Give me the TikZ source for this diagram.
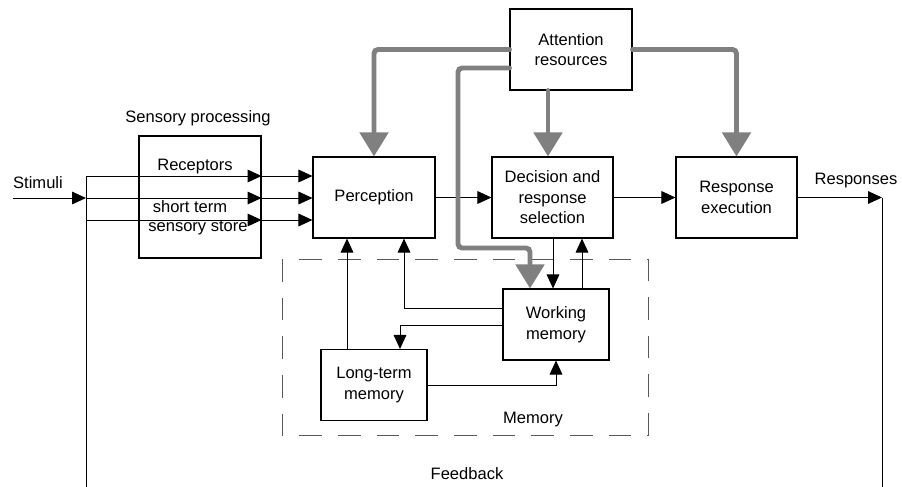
\documentclass[tikz,border=0pt]{standalone}
\usepackage{fontspec}
\setmainfont{Liberation Sans}
\usetikzlibrary{arrows.meta}
\definecolor{attgray}{RGB}{128,128,128}
\tikzset{
  box/.style={draw=black, line width=0.8pt, rectangle, inner sep=0pt, align=center,
    font=\fontsize{12.4}{15.4}\selectfont},
  lbl/.style={inner sep=0pt, align=center, font=\fontsize{12.4}{15.4}\selectfont},
  conn/.style={draw=black, line width=0.75pt},
  arr/.style={conn, -{Triangle[length=10.5pt,width=9.5pt]}},
  gar/.style={draw=attgray, line width=3.7pt, line cap=round, rounded corners=3pt,
    -{Triangle[length=18pt,width=21pt]}},
  memdash/.style={draw=black!65, line width=0.75pt, dash pattern=on 17pt off 12pt}
}
\begin{document}
\begin{tikzpicture}[x=0.75pt,y=-0.75pt]
\useasboundingbox (0,0) rectangle (902,486);
% boxes
\node[box, minimum width=91.5pt, minimum height=91.5pt] (sens) at (200,197) {};
\node[box, minimum width=91.5pt, minimum height=60.75pt] (perc) at (374,197.5) {Perception};
\node[box, minimum width=90.75pt, minimum height=60.75pt] (dec) at (552.5,197.5) {Decision and\\response\\selection};
\node[box, minimum width=91.5pt, minimum height=60.75pt] (att) at (571,49.5) {Attention\\resources};
\node[box, minimum width=90.75pt, minimum height=60.75pt] (resp) at (736.5,197.5) {Response\\execution};
\node[box, minimum width=79.5pt, minimum height=53.25pt] (wm) at (556,324.5) {Working\\memory};
\node[box, minimum width=79.5pt, minimum height=53.25pt] (ltm) at (374,385) {Long-term\\memory};
% memory dashed region
\draw[memdash] (282,259) rectangle (648,435);
% labels
\node[lbl] (stim) at (38,183) {Stimuli};
\node[lbl] (resps) at (856,181) {Responses};
\node[lbl] (sensl) at (198,118) {Sensory processing};
\node[lbl] (rec) at (195,167) {Receptors};
\node[lbl] (st1) at (190,207) {short term};
\node[lbl] (st2) at (198,228) {sensory store};
\node[lbl] (meml) at (533,420) {Memory};
\node[lbl] (fbl) at (467,474) {Feedback};
% coordinates
\coordinate (s0) at (13,198);
\coordinate (j) at (86,198);
\coordinate (jt) at (86,176);
\coordinate (jb) at (86,220);
\coordinate (rend) at (882,197.5);
\coordinate (fbr) at (882,488);
\coordinate (fbl2) at (86,488);
% stimuli input
\draw[arr] (s0) -- (j);
\draw[conn] (rend) -- (fbr) -- (fbl2) -- (jt);
\draw[arr] (jt) -- (jt -| sens.east);
\draw[arr] (j) -- (j -| sens.east);
\draw[arr] (jb) -- (jb -| sens.east);
\draw[arr] (jt -| sens.east) -- (jt -| perc.west);
\draw[arr] (j -| sens.east) -- (j -| perc.west);
\draw[arr] (jb -| sens.east) -- (jb -| perc.west);
% main chain
\draw[arr] (perc.east) -- (dec.west);
\draw[arr] (dec.east) -- (resp.west);
\draw[arr] (resp.east) -- (rend);
% decision <-> working memory
\draw[arr] (dec.south -| 553,0) -- (wm.north -| 553,0);
\draw[arr] (wm.north -| 582,0) -- (dec.south -| 582,0);
% working memory -> perception
\draw[arr] (wm.west |- 0,308) -| (perc.south -| 404,0);
% working memory -> long-term memory
\draw[arr] (wm.west |- 0,325) -| (ltm.north -| 400,0);
% long-term memory -> perception
\draw[arr] (ltm.north -| 347,0) -- (perc.south -| 347,0);
% long-term memory -> working memory
\draw[arr] (ltm.east |- 0,385) -| (wm.south -| 556,0);
% attention resources
\draw[gar] (att.west) -| (perc.north);
\draw[gar] (att.south -| 548,0) -- (dec.north -| 548,0);
\draw[gar] (att.east) -| (resp.north);
\draw[gar] (att.west |- 0,68) -- (458,68) -- (458,248) -- (530,248) -- (wm.north -| 530,0);
\end{tikzpicture}
\end{document}
